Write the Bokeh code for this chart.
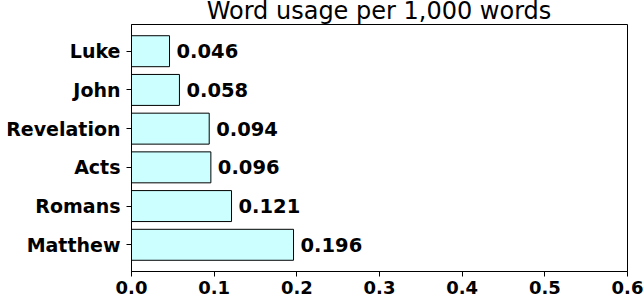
from bokeh.plotting import figure
from bokeh.layouts import column
from bokeh.models import ColumnDataSource, Range1d, FixedTicker, LabelSet, Div
from bokeh.core.properties import value
from bokeh.embed import file_html
from bokeh.resources import INLINE

# Word usage per 1,000 words, by book (listed bottom to top)
books = ["Matthew", "Romans", "Acts", "Revelation", "John", "Luke"]
usage = [0.196, 0.121, 0.096, 0.094, 0.058, 0.046]
x_ticks = [0.0, 0.1, 0.2, 0.3, 0.4, 0.5, 0.6]
title_text = "Word usage per 1,000 words"

pos = list(range(len(books)))
labels = ["%.3f" % v for v in usage]
source = ColumnDataSource(data=dict(pos=pos, book=books, usage=usage, label=labels))

FONT = "DejaVu Sans"
PAD = 0.69  # space above the top bar and below the bottom bar, in bar steps
LEFT, RIGHT, TOP = 131, 17, 24

p = figure(
    width=644, height=301 - TOP,
    y_range=Range1d(-PAD, len(books) - 1 + PAD),
    x_range=Range1d(0, 0.6),
    output_backend="svg", toolbar_location=None,
    min_border_left=LEFT, min_border_right=RIGHT,
    min_border_top=0, min_border_bottom=30,
)

p.hbar(y="pos", right="usage", left=0, height=0.8, source=source,
       fill_color="#ccffff", line_color="black", line_width=1)

p.add_layout(LabelSet(x="usage", y="pos", text="label", source=source,
                      x_offset=7, text_baseline="middle", text_align="left",
                      text_font=value(FONT), text_font_style="bold",
                      text_font_size="19.5px", text_color="black"))

p.xaxis.ticker = FixedTicker(ticks=x_ticks)
p.xaxis.major_label_overrides = {t: "%.1f" % t for t in x_ticks}
p.yaxis.ticker = FixedTicker(ticks=pos)
p.yaxis.major_label_overrides = {i: b for i, b in zip(pos, books)}

for ax in (p.xaxis, p.yaxis):
    ax.major_label_text_font = FONT
    ax.major_label_text_font_style = "bold"
    ax.major_label_text_color = "black"
    ax.axis_line_color = "black"
    ax.major_tick_line_color = "black"
    ax.major_tick_out = 5
    ax.major_tick_in = 0
    ax.minor_tick_line_color = None

p.xaxis.major_label_standoff = 4
p.yaxis.major_label_standoff = 6
p.xaxis.major_label_text_font_size = "18px"
p.yaxis.major_label_text_font_size = "19px"

p.xgrid.grid_line_color = None
p.ygrid.grid_line_color = None
p.outline_line_color = "black"
p.outline_line_width = 1

# chart title, centred over the plot area
title = Div(
    text=title_text, width=644 - LEFT - RIGHT, height=TOP,
    margin=(0, RIGHT, 0, LEFT),
    styles={"font-family": FONT, "font-size": "24px", "line-height": "22px",
            "text-align": "center", "color": "black", "white-space": "nowrap",
            "overflow": "visible"},
)

layout = column(title, p, spacing=0)

open("out.html", "w").write(file_html(layout, INLINE))
